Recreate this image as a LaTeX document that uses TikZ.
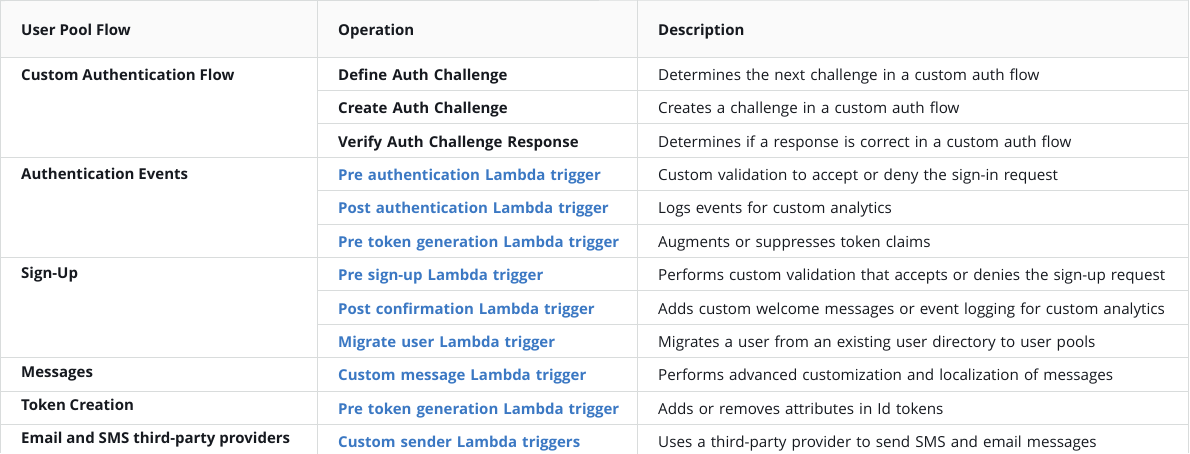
\documentclass[tikz,border=0pt]{standalone}
\usepackage{fontspec}
\setmainfont{Open Sans}
\usepackage{tikz}
\usetikzlibrary{positioning,chains}
\definecolor{ink}{HTML}{16191F}
\definecolor{link}{HTML}{3B78C3}
\definecolor{rule}{HTML}{D9DCDC}
\definecolor{headfill}{HTML}{FAFAFA}
\tikzset{
	trigger table/.style={
		x=1pt,y=-1pt,
		node distance=0pt,
		font=\fontsize{15.2}{18}\selectfont,
		text=ink,
		grid line/.style={rule,line width=1pt}
	},
	cell/.style={
		rectangle,
		inner xsep=21pt,
		inner ysep=0pt,
		minimum height=33pt,
		align=left,
		execute at begin node=\hbox\bgroup, % keep each cell on one line
		execute at end node=\egroup,
		text height=14pt,text depth=1pt % adjust baselines
	},
	op cell/.style={
		cell,
		on chain,
		text width=278pt,
		font=\fontsize{15}{18}\selectfont\bfseries
	},
	trigger cell/.style={
		op cell,
		text=link
	},
	desc cell/.style={
		cell,
		on chain,
		text width=510pt
	},
	flow cell/.style={
		cell,
		anchor=west,
		font=\fontsize{15}{18}\selectfont\bfseries
	},
	head cell/.style={
		flow cell
	}
}

\begin{document}
\begin{tikzpicture}[trigger table]
	\useasboundingbox (0,0) rectangle (1190,453);
	\fill[headfill] (0,0) rectangle (1189,57);
	\coordinate (left) at (0,0);
	\coordinate (right) at (1188.5,0);
	% header
	\node[head cell] (hflow) at (0,28.5) {User Pool Flow};
	\node[head cell] (hop) at (317,28.5) {Operation};
	\node[head cell] (hdesc) at (637,28.5) {Description};
	% first column
	\node[flow cell] (flow1) at (0,73.5) {Custom Authentication Flow};
	\node[flow cell] (flow2) at (0,172.5) {Authentication Events};
	\node[flow cell] (flow3) at (0,271.5) {Sign-Up};
	\node[flow cell] (flow4) at (0,370.5) {Messages};
	\node[flow cell] (flow5) at (0,403.5) {Token Creation};
	\node[flow cell] (flow6) at (0,436.5) {Email and SMS third-party providers};
	% operations
	\begin{scope}[start chain=ops going below]
		\node[op cell,at={(317,57)},anchor=north west] (op1) {Define Auth Challenge};
		\node[op cell] (op2) {Create Auth Challenge};
		\node[op cell] (op3) {Verify Auth Challenge Response};
		\node[trigger cell] (op4) {Pre authentication Lambda trigger};
		\node[trigger cell] (op5) {Post authentication Lambda trigger};
		\node[trigger cell] (op6) {Pre token generation Lambda trigger};
		\node[trigger cell] (op7) {Pre sign-up Lambda trigger};
		\node[trigger cell] (op8) {Post confirmation Lambda trigger};
		\node[trigger cell] (op9) {Migrate user Lambda trigger};
		\node[trigger cell] (op10) {Custom message Lambda trigger};
		\node[trigger cell] (op11) {Pre token generation Lambda trigger};
		\node[trigger cell] (op12) {Custom sender Lambda triggers};
	\end{scope}
	% descriptions
	\begin{scope}[start chain=descs going below]
		\node[desc cell,at={(637,57)},anchor=north west] (desc1) {Determines the next challenge in a custom auth flow};
		\node[desc cell] (desc2) {Creates a challenge in a custom auth flow};
		\node[desc cell] (desc3) {Determines if a response is correct in a custom auth flow};
		\node[desc cell] (desc4) {Custom validation to accept or deny the sign-in request};
		\node[desc cell] (desc5) {Logs events for custom analytics};
		\node[desc cell] (desc6) {Augments or suppresses token claims};
		\node[desc cell] (desc7) {Performs custom validation that accepts or denies the sign-up request};
		\node[desc cell] (desc8) {Adds custom welcome messages or event logging for custom analytics};
		\node[desc cell] (desc9) {Migrates a user from an existing user directory to user pools};
		\node[desc cell] (desc10) {Performs advanced customization and localization of messages};
		\node[desc cell] (desc11) {Adds or removes attributes in Id tokens};
		\node[desc cell] (desc12) {Uses a third-party provider to send SMS and email messages};
	\end{scope}
	% rules
	\draw[grid line] (0,0.5) -- (right);
	\draw[grid line] (0.5,0) -- (0.5,453);
	\draw[grid line] (right) -- (1188.5,453);
	\draw[grid line] (op1.north west |- left) -- (op12.south west);
	\draw[grid line] (desc1.north west |- left) -- (desc12.south west);
	\draw[grid line] (left |- op1.north) -- (right |- op1.north);
	\draw[grid line] (op1.south west) -- (right |- op1.south);
	\draw[grid line] (op2.south west) -- (right |- op2.south);
	\draw[grid line] (left |- op3.south) -- (right |- op3.south);
	\draw[grid line] (op4.south west) -- (right |- op4.south);
	\draw[grid line] (op5.south west) -- (right |- op5.south);
	\draw[grid line] (left |- op6.south) -- (right |- op6.south);
	\draw[grid line] (op7.south west) -- (right |- op7.south);
	\draw[grid line] (op8.south west) -- (right |- op8.south);
	\draw[grid line] (left |- op9.south) -- (right |- op9.south);
	\draw[grid line] (left |- op10.south) -- (right |- op10.south);
	\draw[grid line] (left |- op11.south) -- (right |- op11.south);
\end{tikzpicture}
\end{document}
